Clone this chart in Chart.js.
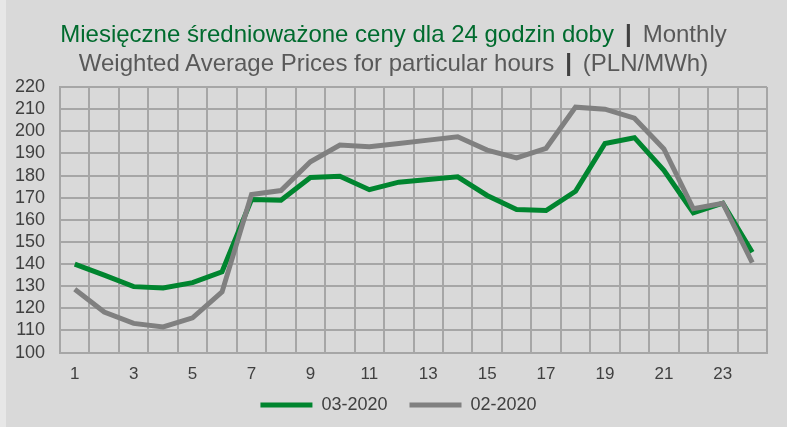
<!DOCTYPE html>
<html>
<head>
<meta charset="utf-8">
<script src="https://cdn.jsdelivr.net/npm/chart.js@4"></script>
<style>
  body { margin: 0; background: #d9d9d9; }
  #wrap {
    position: relative; width: 787px; height: 427px;
    background: linear-gradient(to right, #e7e7e7 6px, #d9d9d9 6px);
  }
  #title {
    position: absolute; left: 0; top: 19px; width: 787px;
    text-align: center; font-family: "Liberation Sans", Arial, sans-serif;
    font-size: 24px; line-height: 29px; color: #595959;
  }
  #title .pl { color: #006b2e; }
  #title .sep { font-weight: bold; color: #404040; padding: 0 11px; }
</style>
</head>
<body>
<div id="wrap">
  <canvas id="myChart" width="787" height="427"></canvas>
  <div id="title">
    <span class="pl">Miesięczne średnioważone ceny dla 24 godzin doby</span><span class="sep">|</span>Monthly<br>
    Weighted Average Prices for particular hours<span class="sep">|</span>(PLN/MWh)
  </div>
</div>
<script>
// godziny doby
var hours = [1, 2, 3, 4, 5, 6, 7, 8, 9, 10, 11, 12, 13, 14, 15, 16, 17, 18, 19, 20, 21, 22, 23, 24];

// 03-2020
var mar2020 = [140, 135, 129.8, 129.2, 131.6, 136.5, 169.2, 168.8, 179.1, 179.7, 173.6, 177,
               178.2, 179.4, 171, 164.7, 164.2, 172.9, 194.5, 197.1, 182.4, 163.2, 167.5, 145.3];

// 02-2020
var feb2020 = [128.6, 118.3, 113.2, 111.6, 115.7, 127.4, 171.4, 173.2, 186.2, 193.8, 193, 194.5,
               196, 197.5, 191.5, 188, 192.3, 210.9, 210, 205.9, 192, 165, 167.5, 140.7];

var seriesNames = ['03-2020', '02-2020'];

var yMin = 100, yMax = 220, yStep = 10;

Chart.defaults.font.family = '"Liberation Sans", Arial, sans-serif';
Chart.defaults.color = '#404040';

// legenda: szerokie odstepy miedzy pozycjami, ale ciasno pod osia X
var legendTrim = {
    id: 'legendTrim',
    beforeLayout: function (chart) {
        var lg = chart.legend;
        if (lg && !lg._trimmed) {
            var fit = lg.fit;
            lg.fit = function () { fit.call(this); this.height -= 20; };
            lg._trimmed = true;
        }
    },
    afterLayout: function (chart) {
        var lg = chart.legend;
        lg.top -= 23;   // tylko gora, zeby nie obcinac tekstu
        lg.left += 15;  // w oryginale legenda troche w prawo
        lg.right += 15;
    }
};

var ctx = document.getElementById('myChart').getContext('2d');
var myChartInstance = new Chart(ctx, {
    type: 'line',
    data: {
        labels: hours,
        datasets: [{
            label: seriesNames[0],
            data: mar2020,
            borderColor: '#00852f',
            backgroundColor: '#00852f',
            borderWidth: 5,
            pointRadius: 0,
            tension: 0,
            order: 1
        }, {
            label: seriesNames[1],
            data: feb2020,
            borderColor: '#808080',
            backgroundColor: '#808080',
            borderWidth: 5,
            pointRadius: 0,
            tension: 0,
            order: 0
        }]
    },
    options: {
        responsive: false,
        animation: false,
        layout: {
            padding: { top: 87, left: 0, right: 20, bottom: 0 }
        },
        scales: {
            x: {
                offset: true,
                grid: { offset: true, color: '#a6a6a6', lineWidth: 2, drawTicks: false },
                border: { color: '#a6a6a6', width: 2 },
                ticks: {
                    autoSkip: false,
                    maxRotation: 0,
                    padding: 12,
                    font: { size: 17 },
                    callback: function (v, i) { return i % 2 === 0 ? hours[i] : ''; }
                }
            },
            y: {
                min: yMin,
                max: yMax,
                grid: { color: '#a6a6a6', lineWidth: 2, drawTicks: false },
                border: { color: '#a6a6a6', width: 2 },
                ticks: {
                    stepSize: yStep,
                    autoSkip: false,
                    padding: 15,
                    font: { size: 18 }
                }
            }
        },
        plugins: {
            legend: {
                position: 'bottom',
                labels: {
                    usePointStyle: true,
                    pointStyle: 'line',
                    pointStyleWidth: 52,
                    boxHeight: 5,
                    padding: 22,
                    font: { size: 18 },
                    color: '#404040',
                    sort: function (a, b) { return a.datasetIndex - b.datasetIndex; }
                }
            },
            tooltip: { enabled: false }
        }
    },
    plugins: [legendTrim]
});
</script>
</body>
</html>
